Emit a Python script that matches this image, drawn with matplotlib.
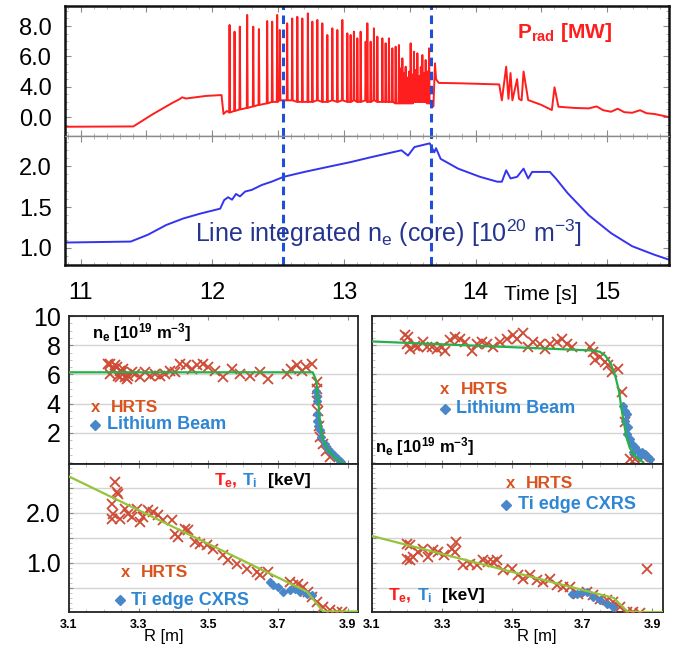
import numpy as np
import matplotlib.pyplot as plt
from matplotlib.ticker import MultipleLocator
from matplotlib.transforms import offset_copy

plt.rcParams['font.family'] = ['Liberation Sans', 'DejaVu Sans']
plt.rcParams['mathtext.fontset'] = 'custom'
plt.rcParams['mathtext.rm'] = 'Liberation Sans'
plt.rcParams['mathtext.it'] = 'Liberation Sans:italic'
plt.rcParams['mathtext.bf'] = 'Liberation Sans:bold'

# ---- time traces (top) ----
# P_rad in axis units (tick labels are what the original figure shows)
prad_pre_t = [10.88, 11.40, 11.55, 11.70, 11.75, 11.77, 11.80, 11.95, 12.07, 12.085, 12.11]
prad_pre_v = [1.36, 1.38, 2.20, 2.95, 3.17, 3.30, 3.22, 3.39, 3.45, 2.20, 2.40]

elm_t = [12.128, 12.166, 12.206, 12.262, 12.308, 12.351, 12.414, 12.452, 12.490, 12.510,
         12.566, 12.604, 12.643, 12.681, 12.723, 12.757, 12.795, 12.833, 12.871, 12.909,
         12.947, 12.985, 13.023, 13.048, 13.073, 13.099, 13.124, 13.162, 13.175, 13.200,
         13.225, 13.251, 13.289, 13.314, 13.339, 13.365, 13.390, 13.415, 13.428, 13.441,
         13.453, 13.466, 13.480, 13.492, 13.504, 13.517, 13.529, 13.542, 13.555, 13.568,
         13.581, 13.593, 13.606, 13.618, 13.631, 13.644]
elm_peak = [8.07, 7.63, 7.96, 8.73, 7.96, 7.80, 8.33, 8.29, 8.73, 7.74,
            8.18, 8.50, 8.61, 8.50, 8.84, 8.29, 8.40, 8.18, 7.41, 7.85,
            7.74, 8.40, 7.52, 7.41, 7.63, 7.19, 7.63, 6.97, 8.18, 6.97,
            7.85, 7.30, 7.19, 6.86, 7.19, 6.53, 6.64, 6.75, 5.20, 5.87,
            4.90, 5.32, 4.60, 5.00, 6.86, 4.80, 6.31, 5.10, 6.20, 4.70,
            5.30, 6.09, 4.90, 5.76, 5.00, 6.53]
elm_low = [2.30, 2.40, 2.50, 2.60, 2.70, 2.80, 2.90, 3.00, 3.00, 3.10,
           3.10, 3.10, 3.00, 3.00, 3.00, 3.00, 3.10, 3.00, 3.00, 3.10,
           3.00, 3.10, 3.00, 3.00, 3.10, 3.00, 3.00, 3.10, 3.00, 3.00,
           3.10, 3.00, 3.00, 3.00, 3.00, 3.00, 2.90, 2.90, 2.90, 2.90,
           2.90, 2.90, 2.90, 2.90, 2.90, 2.90, 3.00, 3.00, 3.00, 3.00,
           3.00, 3.00, 3.00, 3.00, 2.90, 2.90]

prad_post_t = [13.665, 13.68, 13.692, 13.70, 13.72, 13.90, 14.18, 14.20, 14.233, 14.25,
               14.266, 14.28, 14.316, 14.33, 14.35, 14.365, 14.40, 14.50, 14.58, 14.60,
               14.63, 14.75, 14.86, 14.92, 14.97, 15.03, 15.08, 15.13, 15.19, 15.25,
               15.30, 15.36, 15.48]
prad_post_v = [3.00, 2.70, 5.54, 4.50, 4.25, 4.22, 4.15, 3.10, 5.32, 3.20,
               4.90, 3.10, 4.50, 3.20, 3.10, 5.00, 3.12, 2.80, 2.46, 3.96,
               2.68, 2.60, 2.57, 2.70, 2.45, 2.35, 2.55, 2.32, 2.28, 2.45,
               2.25, 2.20, 1.98]

ne_core_t = [10.88, 11.38, 11.51, 11.65, 11.78, 11.91, 12.06, 12.09, 12.12, 12.15, 12.18,
             12.21, 12.25, 12.30, 12.376, 12.45, 12.542, 12.70, 12.873, 13.05, 13.205,
             13.437, 13.487, 13.536, 13.652, 13.686, 13.70, 13.735, 13.868, 14.034,
             14.166, 14.20, 14.233, 14.266, 14.316, 14.365, 14.40, 14.43, 14.565, 14.61,
             14.70, 14.86, 15.03, 15.19, 15.36, 15.48]
ne_core_v = [1.065, 1.077, 1.16, 1.28, 1.36, 1.42, 1.48, 1.585, 1.62, 1.59, 1.66,
             1.63, 1.69, 1.71, 1.77, 1.81, 1.87, 1.93, 1.99, 2.05, 2.11,
             2.195, 2.13, 2.235, 2.28, 2.17, 2.22, 2.09, 1.97, 1.87,
             1.81, 1.81, 1.95, 1.85, 1.87, 1.97, 1.85, 1.93, 1.93, 1.85,
             1.67, 1.40, 1.18, 1.02, 0.915, 0.85]

dash_t = [12.54, 13.66]

# ---- profiles (bottom) ----
ne_l_hrts_R = [3.213, 3.218, 3.218, 3.227, 3.232, 3.237, 3.242, 3.246, 3.246, 3.251, 3.256, 3.261,
               3.266, 3.270, 3.280, 3.289, 3.304, 3.318, 3.333, 3.347, 3.361, 3.376, 3.390,
               3.404, 3.419, 3.436, 3.452, 3.467, 3.486, 3.500, 3.519, 3.543, 3.567, 3.591,
               3.620, 3.648, 3.672, 3.725, 3.739, 3.754, 3.768, 3.782, 3.797,
               3.811, 3.811, 3.812, 3.815, 3.818, 3.820, 3.829, 3.839, 3.849]
ne_l_hrts_v = [6.73, 6.73, 6.05, 6.39, 6.62, 6.50, 5.93, 6.27, 5.81, 6.16, 6.39, 5.81,
               5.70, 5.93, 6.16, 6.05, 5.81, 6.16, 5.93, 6.05, 5.93, 6.05, 6.27,
               6.16, 6.73, 6.62, 6.39, 6.62, 6.73, 6.50, 6.27, 5.81, 6.39, 6.05,
               5.93, 6.16, 5.70, 6.05, 6.39, 6.62, 6.27, 6.50, 6.73,
               5.47, 5.02, 4.22, 3.53, 2.50, 1.70, 1.25, 0.80, 0.34]
ne_l_li_R = [3.809, 3.811, 3.812, 3.812, 3.811, 3.815, 3.820, 3.825, 3.834, 3.844, 3.853,
             3.863, 3.872, 3.877, 3.882]
ne_l_li_v = [4.90, 4.50, 4.20, 3.30, 2.85, 2.50, 2.20, 1.70, 1.25, 0.90, 0.70,
             0.46, 0.23, 0.10, 0.00]
ne_l_fit_R = [3.10, 3.80, 3.81, 3.815, 3.82, 3.825, 3.83, 3.84, 3.855, 3.87, 3.885]
ne_l_fit_v = [6.15, 6.15, 5.60, 4.50, 3.00, 2.00, 1.50, 1.00, 0.50, 0.20, 0.00]

te_l_hrts_R = [3.232, 3.237, 3.242, 3.223, 3.227, 3.223, 3.246, 3.261, 3.270, 3.280, 3.294,
               3.304, 3.313, 3.328, 3.342, 3.357, 3.371, 3.395, 3.404, 3.414, 3.433, 3.443,
               3.462, 3.476, 3.495, 3.514, 3.543, 3.557, 3.582, 3.610, 3.639, 3.649, 3.672,
               3.735, 3.744, 3.759, 3.773, 3.787, 3.797, 3.811, 3.830, 3.850, 3.869, 3.883]
te_l_hrts_v = [2.63, 2.43, 2.39, 2.19, 1.99, 1.89, 1.89, 2.09, 1.99, 1.93, 2.09,
               1.83, 1.93, 2.06, 2.03, 1.96, 1.86, 1.86, 1.59, 1.53, 1.69, 1.66,
               1.43, 1.39, 1.36, 1.29, 1.16, 1.06, 0.99, 0.89, 0.83, 0.76, 0.83,
               0.63, 0.56, 0.59, 0.53, 0.43, 0.33, 0.23, 0.13, 0.06, 0.03, 0.03]
te_l_cx_R = [3.677, 3.686, 3.700, 3.714, 3.735, 3.749, 3.763, 3.783, 3.797]
te_l_cx_v = [0.63, 0.56, 0.53, 0.43, 0.46, 0.49, 0.43, 0.39, 0.36]
te_l_fit_R = [3.10, 3.783, 3.83, 3.93]
te_l_fit_v = [2.73, 0.43, 0.03, 0.03]

ne_r_hrts_R = [3.194, 3.204, 3.199, 3.208, 3.223, 3.232, 3.246, 3.256, 3.270, 3.285, 3.299,
               3.308, 3.322, 3.337, 3.351, 3.365, 3.384, 3.399, 3.413, 3.427, 3.446, 3.465,
               3.484, 3.503, 3.513, 3.532, 3.546, 3.560, 3.579, 3.593, 3.607, 3.627, 3.641,
               3.655, 3.670, 3.722, 3.731, 3.736, 3.750, 3.765, 3.774, 3.784, 3.803, 3.812,
               3.822, 3.836, 3.850, 3.874]
ne_r_hrts_v = [8.67, 8.55, 8.10, 7.76, 7.98, 7.87, 8.21, 7.87, 7.87, 7.76, 7.87,
               7.64, 8.33, 8.55, 8.44, 8.21, 7.64, 8.10, 8.21, 8.10, 7.87, 8.21,
               8.44, 8.67, 8.44, 8.87, 7.87, 8.21, 8.10, 7.76, 8.10, 8.21, 8.44,
               8.10, 7.87, 7.87, 7.53, 6.96, 7.19, 6.85, 6.62, 6.16, 6.39, 4.79,
               2.74, 0.22, 0.22, 0.34]
ne_r_li_R = [3.817, 3.822, 3.826, 3.822, 3.831, 3.826, 3.836, 3.841, 3.850, 3.860, 3.869,
             3.879, 3.888, 3.893, 3.845, 3.864]
ne_r_li_v = [3.88, 3.53, 3.31, 2.85, 2.40, 1.94, 1.60, 1.25, 1.03, 0.80, 0.69,
             0.57, 0.34, 0.23, 0.69, 0.46]
ne_r_fit_R = [3.10, 3.731, 3.750, 3.765, 3.780, 3.795, 3.805, 3.812, 3.820, 3.826, 3.835,
              3.845, 3.860, 3.874]
ne_r_fit_v = [8.26, 7.64, 7.55, 7.30, 6.80, 5.80, 4.80, 3.60, 2.50, 1.70, 1.00,
              0.56, 0.20, 0.00]

te_r_hrts_R = [3.199, 3.208, 3.199, 3.208, 3.218, 3.232, 3.246, 3.261, 3.275, 3.289, 3.304,
               3.327, 3.341, 3.337, 3.360, 3.379, 3.399, 3.418, 3.432, 3.446, 3.456, 3.475,
               3.498, 3.517, 3.532, 3.551, 3.570, 3.589, 3.607, 3.627, 3.646, 3.665, 3.688,
               3.712, 3.731, 3.750, 3.769, 3.788, 3.807, 3.826, 3.845, 3.864, 3.883]
te_r_hrts_v = [1.39, 1.36, 1.09, 1.06, 1.13, 1.23, 1.29, 1.13, 1.26, 1.23, 1.16,
               1.29, 1.43, 1.23, 0.96, 0.99, 0.96, 1.06, 1.03, 1.03, 1.06, 0.86,
               0.89, 0.76, 0.69, 0.76, 0.66, 0.63, 0.69, 0.56, 0.53, 0.53, 0.39,
               0.43, 0.36, 0.29, 0.26, 0.23, 0.13, 0.03, 0.03, 0.00, 0.89]
te_r_cx_R = [3.670, 3.684, 3.698, 3.712, 3.731, 3.750, 3.769, 3.788]
te_r_cx_v = [0.39, 0.39, 0.43, 0.43, 0.33, 0.26, 0.19, 0.13]
te_r_fit_R = [3.10, 3.79, 3.83, 3.93]
te_r_fit_v = [1.54, 0.30, 0.02, 0.02]

R_ticks = [3.1, 3.3, 3.5, 3.7, 3.9]

RED = '#ff1e1e'
HRTS_C = '#cf4b35'
HRTS_TXT = '#d9531e'
LI_C = '#4a87c9'
LI_TXT = '#2f86d2'
GRAY = '#8a8a8a'


def chain_text(ax, x, y, parts, **kw):
    # draw differently coloured pieces of text one after another
    r = ax.figure.canvas.get_renderer()
    dx = 0
    for s, c, gap in parts:
        tr = offset_copy(ax.transAxes, fig=ax.figure, x=dx, y=0, units='dots')
        t = ax.text(x, y, s, color=c, transform=tr, ha='left', va='baseline', **kw)
        dx += t.get_window_extent(r).width + gap


def style_profile(ax, left_labels):
    for s in ax.spines.values():
        s.set_color('#222222')
        s.set_linewidth(1.3)
    ax.set_xlim(3.1, 3.93)
    ax.set_xticks(R_ticks)
    ax.xaxis.set_minor_locator(MultipleLocator(0.05))
    ax.tick_params(direction='in', colors=GRAY, length=3, width=0.8,
                   top=True, labelbottom=False, labelleft=left_labels,
                   labelcolor='black', labelsize=18, pad=6)
    ax.tick_params(which='minor', direction='in', colors='#bbbbbb', length=2,
                   top=True, left=True)
    ax.grid(axis='y', color='#d4d4d4', lw=1.0)
    ax.set_axisbelow(True)


fig = plt.figure(figsize=(6.82, 6.60), dpi=100)
W, H = 682.0, 660.0

# ---- top time traces ----
ax_p = fig.add_axes([64.5 / W, 1 - 136 / H, 604.5 / W, 130 / H])
ax_n = fig.add_axes([64.5 / W, 1 - 265 / H, 604.5 / W, 129 / H])

tt = list(prad_pre_t)
vv = list(prad_pre_v)
for t, pk, lo in zip(elm_t, elm_peak, elm_low):
    tt += [t, t + 0.003, t + 0.007]
    vv += [lo, pk, lo]
tt += prad_post_t
vv += prad_post_v
ax_p.plot(tt, vv, color=RED, lw=1.4)
ax_n.plot(ne_core_t, ne_core_v, color='#3434f0', lw=1.4)

for ax in (ax_p, ax_n):
    ax.set_xlim(10.877, 15.47)
    for t in dash_t:
        ax.axvline(t, color='#1f4fd8', ls=(0, (2.8, 1.8)), lw=2.2)
    ax.xaxis.set_major_locator(MultipleLocator(0.5))
    ax.xaxis.set_minor_locator(MultipleLocator(0.1))
    ax.tick_params(direction='in', colors=GRAY, length=4, width=0.8,
                   top=True, right=True, labelcolor='black', labelsize=17)
    ax.tick_params(which='minor', direction='in', colors='#aaaaaa', length=2,
                   top=True, right=True, left=True)
    for s in ax.spines.values():
        s.set_linewidth(1.8)
        s.set_color('#111111')

ax_p.spines['bottom'].set_color(GRAY)
ax_p.spines['bottom'].set_linewidth(1.0)
ax_n.spines['top'].set_color(GRAY)
ax_n.spines['top'].set_linewidth(1.0)

ax_p.set_ylim(0.75, 9.32)
ax_p.set_yticks([2, 4, 6, 8])
ax_p.set_yticklabels(['0.0', '4.0', '6.0', '8.0'])
ax_p.yaxis.set_minor_locator(MultipleLocator(0.5))
ax_p.tick_params(labelbottom=False, pad=9)

ax_n.set_ylim(0.79, 2.37)
ax_n.set_yticks([1.0, 1.5, 2.0])
ax_n.set_yticklabels(['1.0', '1.5', '2.0'])
ax_n.yaxis.set_minor_locator(MultipleLocator(0.1))
ax_n.set_xticks([11, 12, 13, 14, 15], minor=False)
ax_n.xaxis.set_minor_locator(MultipleLocator(0.1))
ax_n.tick_params(axis='y', pad=9)
ax_n.tick_params(axis='x', pad=12)

ax_p.text(517 / W, 1 - 33 / H, r'$\mathbf{P_{rad}}$ [MW]', transform=fig.transFigure,
          color=RED, fontsize=15, fontweight='bold', ha='left', va='center')
ax_n.text(389 / W, 1 - 233 / H,
          r'Line integrated n$_\mathregular{e}$ (core) [10$^{20}$ m$^{-3}$]',
          transform=fig.transFigure, color='#25358f', fontsize=18,
          ha='center', va='center')
fig.text(541 / W, 1 - 294 / H, 'Time [s]', fontsize=15, ha='center', va='center')

# ---- profile panels ----
pl = 69 / W
pr = 372 / W
pw_l = 289 / W
pw_r = 291 / W
ph = 148 / H
ax_lt = fig.add_axes([pl, 1 - 464 / H, pw_l, ph])
ax_lb = fig.add_axes([pl, 1 - 612 / H, pw_l, ph])
ax_rt = fig.add_axes([pr, 1 - 464 / H, pw_r, ph])
ax_rb = fig.add_axes([pr, 1 - 612 / H, pw_r, ph])

for ax, lab in ((ax_lt, True), (ax_lb, True), (ax_rt, False), (ax_rb, False)):
    style_profile(ax, lab)

for ax in (ax_lt, ax_rt):
    ax.set_ylim(-0.12, 10.0)
    ax.set_yticks([2, 4, 6, 8, 10])
    ax.yaxis.set_minor_locator(MultipleLocator(0.5))
for ax in (ax_lb, ax_rb):
    ax.set_ylim(0.02, 2.98)
    ax.set_yticks([0.5, 1.0, 1.5, 2.0, 2.5])
    ax.set_yticklabels(['', '1.0', '', '2.0', ''])
    ax.yaxis.set_minor_locator(MultipleLocator(0.1))
    ax.tick_params(labelbottom=True, labelsize=9, pad=5)
    ax.tick_params(axis='y', labelsize=18, pad=6)
    for lbl in ax.get_xticklabels():
        lbl.set_fontweight('bold')
ax_rb.tick_params(axis='y', labelleft=False)

mk_x = dict(ls='none', marker='x', ms=7.5, mew=1.3, color=HRTS_C)
mk_d = dict(ls='none', marker='D', ms=4.5, color=LI_C)

ax_lt.plot(ne_l_fit_R, ne_l_fit_v, color='#27b04a', lw=1.6, zorder=4)
ax_lt.plot(ne_l_hrts_R, ne_l_hrts_v, zorder=3, **mk_x)
ax_lt.plot(ne_l_li_R, ne_l_li_v, zorder=3, **mk_d)

ax_rt.plot(ne_r_fit_R, ne_r_fit_v, color='#27b04a', lw=1.6, zorder=4)
ax_rt.plot(ne_r_hrts_R, ne_r_hrts_v, zorder=3, **mk_x)
ax_rt.plot(ne_r_li_R, ne_r_li_v, zorder=3, **mk_d)

ax_lb.plot(te_l_fit_R, te_l_fit_v, color='#93c43a', lw=1.6, zorder=4)
ax_lb.plot(te_l_hrts_R, te_l_hrts_v, zorder=3, **mk_x)
ax_lb.plot(te_l_cx_R, te_l_cx_v, zorder=3, **mk_d)

ax_rb.plot(te_r_fit_R, te_r_fit_v, color='#93c43a', lw=1.6, zorder=4)
ax_rb.plot(te_r_hrts_R, te_r_hrts_v, zorder=3, **mk_x)
ax_rb.plot(te_r_cx_R, te_r_cx_v, zorder=3, **mk_d)


def legend_pair(ax, x1, y1, x2, y2, label2):
    ax.text(x1, y1, 'x', transform=ax.transAxes, color=HRTS_TXT, fontsize=12,
            fontweight='bold', ha='left', va='center')
    ax.text(x1 + 0.07, y1, 'HRTS', transform=ax.transAxes, color=HRTS_TXT,
            fontsize=12.5, fontweight='bold', ha='left', va='center')
    ax.plot([x2 + 0.015], [y2], transform=ax.transAxes, ls='none', marker='D',
            ms=5, color=LI_C, clip_on=False)
    ax.text(x2 + 0.055, y2, label2, transform=ax.transAxes, color=LI_TXT,
            fontsize=13, fontweight='bold', ha='left', va='center')


ne_label = r'$\mathbf{n_e}$ [10$^\mathbf{19}$ m$^\mathbf{-3}$]'
te_parts = [(r'$\mathbf{T_e}$,', '#ff1a1a', 5), (r'$\mathbf{T_i}$', '#2f86d2', 10),
            ('[keV]', 'black', 0)]

ax_lt.text(0.08, 0.89, ne_label, transform=ax_lt.transAxes, fontsize=12,
           fontweight='bold', ha='left', va='center')
legend_pair(ax_lt, 0.075, 0.385, 0.075, 0.264, 'Lithium Beam')

chain_text(ax_lb, 0.50, 0.855, te_parts, fontsize=12.5, fontweight='bold')
legend_pair(ax_lb, 0.18, 0.27, 0.16, 0.081, 'Ti edge CXRS')

legend_pair(ax_rt, 0.235, 0.50, 0.235, 0.372, 'Lithium Beam')
ax_rt.text(0.01, 0.115, ne_label, transform=ax_rt.transAxes, fontsize=12,
           fontweight='bold', ha='left', va='center')

legend_pair(ax_rb, 0.46, 0.865, 0.445, 0.723, 'Ti edge CXRS')
chain_text(ax_rb, 0.055, 0.08, te_parts, fontsize=12.5, fontweight='bold')

fig.text(164 / W, 1 - 637 / H, 'R [m]', fontsize=12, ha='center', va='center')
fig.text(537 / W, 1 - 637 / H, 'R [m]', fontsize=12, ha='center', va='center')

fig.savefig('out.png', dpi=100)
